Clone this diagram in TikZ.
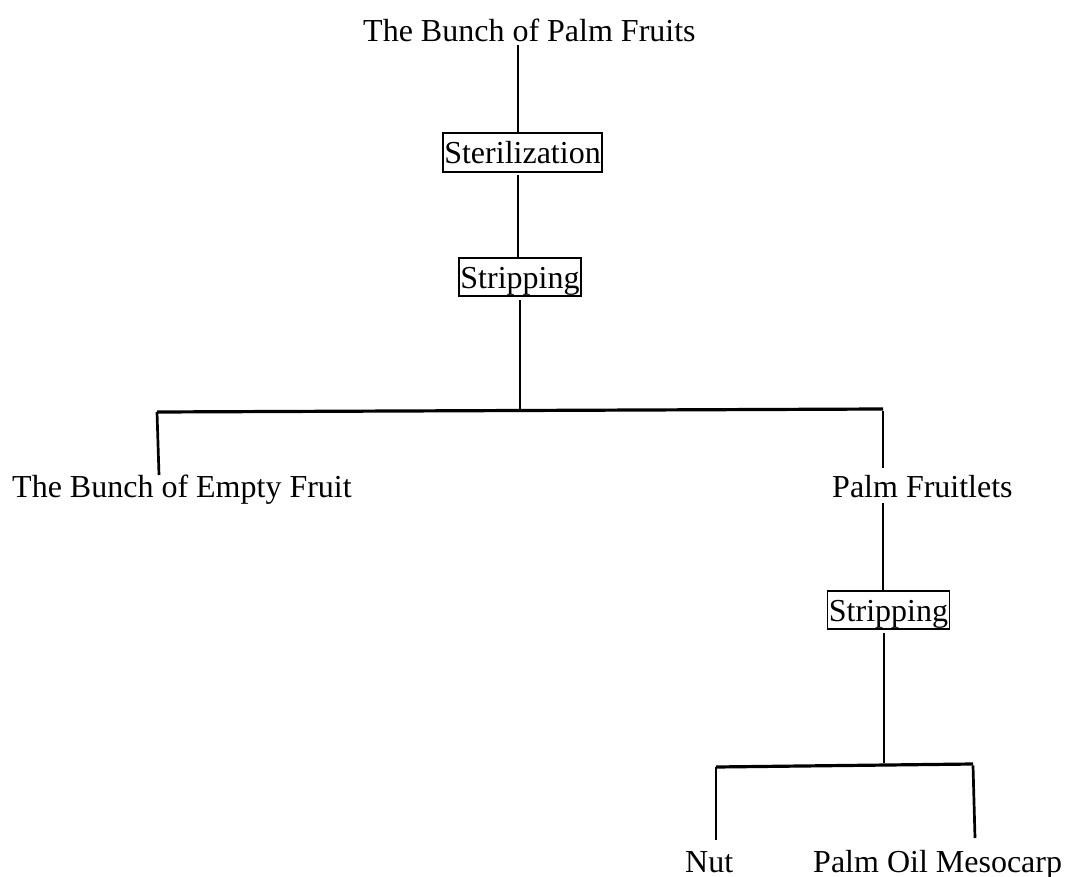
\documentclass[tikz,border=0pt]{standalone}
\usepackage{fontspec}
\setmainfont{Liberation Serif}
\begin{document}
\begin{tikzpicture}[x=1pt,y=-1pt,
  lbl/.style={inner sep=0pt, anchor=base west, font=\fontsize{32pt}{38pt}\selectfont},
  procbox/.style={draw, line width=1.6pt, inner xsep=1.5pt, inner ysep=1.5pt,
    text height=29pt, text depth=6.5pt, font=\fontsize{32pt}{38pt}\selectfont},
  conn/.style={line width=2.7pt},
  thinconn/.style={line width=2.3pt},
  bar/.style={line width=3.2pt}]
\useasboundingbox (0,0) rectangle (1065,877);
% texts
\node[lbl] (title) at (363,42) {The Bunch of Palm Fruits};
\node[procbox] (ster) at (522.5,152.5) {Sterilization};
\node[procbox] (stripA) at (520,277) {Stripping};
\node[lbl] (empty) at (12,497) {The Bunch of Empty Fruit};
\node[lbl] (fruitlets) at (832,497) {Palm Fruitlets};
\node[procbox] (stripB) at (888.5,610) {Stripping};
\node[lbl] (nut) at (685,872) {Nut};
\node[lbl] (meso) at (813,872) {Palm Oil Mesocarp};
% coordinates
\coordinate (t0) at (518,45);
\coordinate (s0) at (518,175);
\coordinate (a0) at (520,300);
\coordinate (jA) at (520,411);
\coordinate (barL) at (157,412);
\coordinate (barR) at (883,409);
\coordinate (dL) at (159,475);
\coordinate (dR) at (883,468);
\coordinate (f0) at (883,503);
\coordinate (b0) at (884,633);
\coordinate (jB) at (884,763);
\coordinate (bar2L) at (716,767);
\coordinate (bar2R) at (973,764);
\coordinate (d2L) at (716,840);
\coordinate (d2R) at (975,838);
% connectors
\draw[thinconn] (t0) -- (ster.north -| t0);
\draw[thinconn] (s0) -- (stripA.north -| s0);
\draw[conn] (a0) -- (jA);
\draw[bar] (barL) -- (barR);
\draw[conn] (barL) -- (dL);
\draw[conn] ([yshift=-1.5pt]barR) -- (dR);
\draw[conn] (f0) -- (stripB.north -| f0);
\draw[conn] (b0) -- (jB);
\draw[bar] (bar2L) -- (bar2R);
\draw[conn] (bar2L) -- (d2L);
\draw[conn] ([yshift=-1.5pt]bar2R) -- (d2R);
\end{tikzpicture}
\end{document}
